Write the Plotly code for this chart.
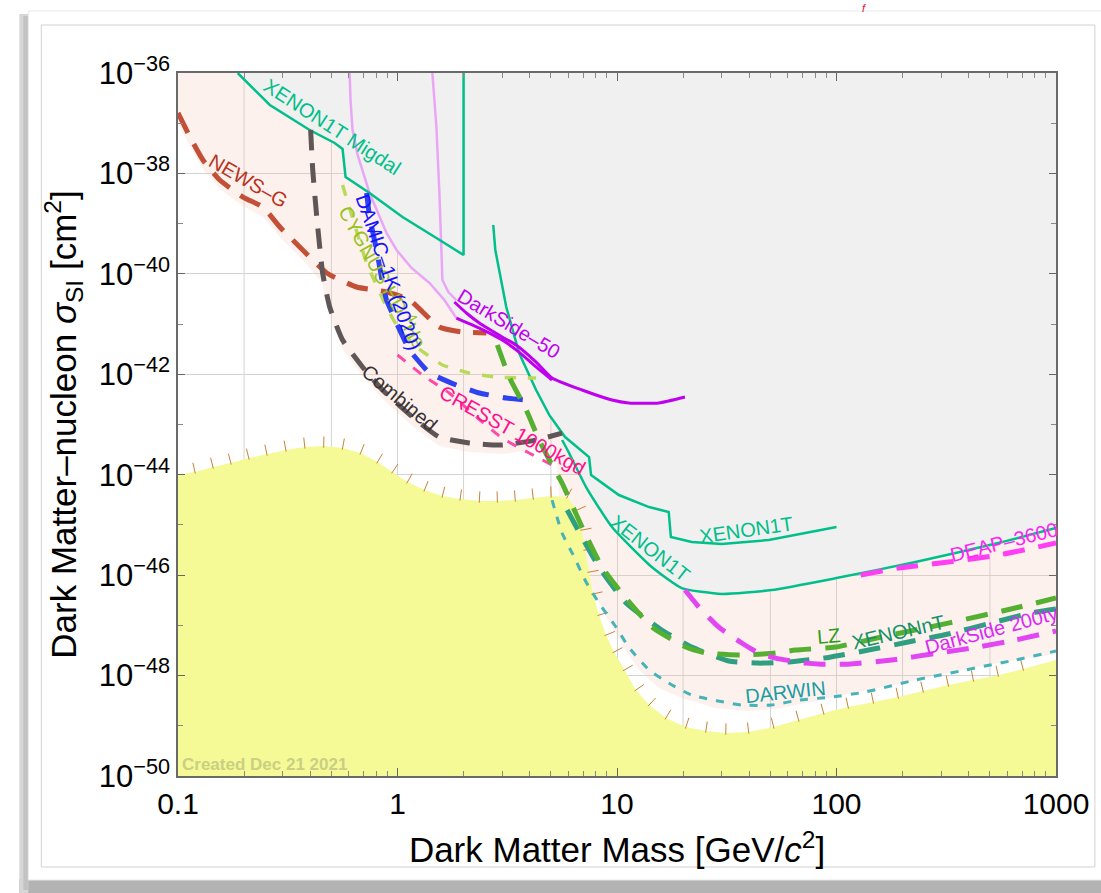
import math
import plotly.graph_objects as go

# ---------------- data (mass in GeV/c^2, cross-section in cm^2) ----------------
excl_mass = [0.187, 0.262, 0.398, 0.517, 0.562, 0.580, 0.746, 0.891, 0.99, 1.158, 1.398, 1.635, 1.854,
             2.36, 3.0, 3.58, 4.28, 4.91, 5.62, 6.05, 7.23, 9.49, 14.4, 19.7, 30.0, 50.6, 100, 229, 545,
             1000, 1000]
excl_sigma = [1e-36, 2.31e-37, 7.33e-38, 4.04e-38, 3.06e-38, 8.49e-39, 4.07e-39, 6.50e-40, 2.99e-40,
              1.31e-40, 6.57e-41, 3.01e-41, 1.32e-41, 8.34e-42, 4.81e-42, 2.70e-42, 4.86e-43, 1.55e-43,
              4.91e-44, 2.70e-44, 5.69e-45, 9.08e-46, 1.45e-46, 5.53e-47, 4.21e-47, 5.05e-47, 8.75e-47,
              1.82e-46, 4.36e-46, 8.67e-46, 1e-36]

band_mass = [0.1, 0.1, 0.1134, 0.1299, 0.155, 0.1975, 0.2435, 0.291, 0.370, 0.451, 0.491, 0.562, 0.693,
             0.855, 1.17, 1.55, 2.12, 3.0, 4.28, 5.23, 5.34, 5.45, 5.74, 6.38, 7.08, 8.03, 9.20, 10.8,
             12.6, 15.5, 19.7, 28.2, 39.8, 56.2, 80.3, 113, 191, 323, 545, 1000, 1000]
band_sigma = [1e-36, 1.01e-37, 3.52e-38, 1.22e-38, 4.90e-39, 2.24e-39, 1.36e-39, 5.42e-40, 1.89e-40,
              6.87e-41, 1.45e-41, 3.18e-42, 9.23e-43, 3.21e-43, 9.33e-44, 3.72e-44, 2.83e-44, 2.58e-44,
              3.24e-44, 4.08e-44, 1.24e-44, 3.94e-45, 1.25e-45, 3.47e-46, 1.10e-46, 3.50e-47, 1.16e-47,
              3.53e-48, 1.29e-48, 5.64e-49, 3.56e-49, 2.25e-49, 1.96e-49, 2.25e-49, 3.11e-49, 4.29e-49,
              6.78e-49, 1.12e-48, 1.77e-48, 2.69e-48, 1e-36]

floor_mass = [0.1, 0.1195, 0.1443, 0.174, 0.210, 0.254, 0.310, 0.378, 0.461, 0.562, 0.679, 0.811, 0.949,
              1.11, 1.327, 1.602, 1.93, 2.36, 2.85, 3.44, 4.15, 5.01, 5.93, 6.58, 6.93, 7.15, 7.46, 7.78,
              8.28, 8.91, 9.69, 10.8, 12.2, 14.0, 16.7, 20.6, 25.4, 31.3, 39.8, 51.7, 67.2, 87.3, 113,
              147, 191, 248, 323, 420, 545, 708, 1000]
floor_sigma = [9.86e-45, 1.13e-44, 1.42e-44, 1.71e-44, 2.15e-44, 2.58e-44, 3.10e-44, 3.56e-44, 3.72e-44,
               3.40e-44, 2.70e-44, 1.79e-44, 1.13e-44, 7.14e-45, 4.95e-45, 3.76e-45, 3.28e-45, 2.99e-45,
               2.99e-45, 3.13e-45, 3.43e-45, 3.76e-45, 3.59e-45, 1.98e-45, 7.91e-46, 3.16e-46, 1.15e-46,
               4.21e-47, 1.60e-47, 6.41e-48, 2.94e-48, 1.29e-48, 5.15e-49, 2.59e-49, 1.43e-49, 9.44e-50,
               7.85e-50, 7.16e-50, 7.5e-50, 9.44e-50, 1.30e-49, 1.79e-49, 2.36e-49, 2.97e-49, 3.73e-49,
               4.92e-49, 6.47e-49, 8.15e-49, 1.02e-48, 1.35e-48, 2.04e-48]

migdal_mass = [0.187, 0.262, 0.398, 0.517, 0.562, 0.580, 0.746, 1.054, 1.504, 2.0, 2.0]
migdal_sigma = [1e-36, 2.31e-37, 7.33e-38, 4.04e-38, 3.06e-38, 8.49e-39, 4.07e-39, 1.36e-39, 5.18e-40,
                2.37e-40, 1e-36]

x1t_s2_mass = [2.73, 2.79, 3.13, 3.58, 4.28, 4.91, 5.80, 7.46, 7.62, 10.2, 14.0, 17.2, 17.6, 21.9, 30.0,
               49.1, 100]
x1t_s2_sigma = [9.4e-40, 2.99e-40, 2.19e-41, 2.65e-42, 4.86e-43, 1.55e-43, 5.62e-44, 2.25e-44, 9.86e-45,
                3.94e-45, 2.27e-45, 1.81e-45, 5.74e-46, 4.56e-46, 4.16e-46, 5.0e-46, 9.08e-46]

x1t_mass = [5.62, 6.05, 7.23, 9.49, 14.4, 19.7, 30.0, 50.6, 100, 229, 545, 1000]
x1t_sigma = [4.91e-44, 2.70e-44, 5.69e-45, 9.08e-46, 1.45e-46, 5.53e-47, 4.21e-47, 5.05e-47, 8.75e-47,
             1.82e-46, 4.36e-46, 8.67e-46]

ds50_migdal_a_mass = [0.605, 0.611, 0.624, 0.658, 0.746, 0.891, 0.99, 1.158, 1.398, 1.635, 1.854]
ds50_migdal_a_sigma = [1e-36, 2.90e-37, 7.33e-38, 2.33e-38, 4.07e-39, 6.50e-40, 2.99e-40, 1.31e-40,
                       6.57e-41, 3.01e-41, 1.32e-41]
ds50_migdal_b_mass = [1.442, 1.504, 1.552, 1.602, 1.705, 1.854]
ds50_migdal_b_sigma = [1e-36, 8.41e-38, 4.07e-39, 7.54e-41, 4.35e-41, 3.01e-41]

ds50_mass = [1.816, 2.06, 2.36, 3.0, 3.47, 4.28, 5.06, 6.93, 9.49, 11.3, 15.5, 20.4]
ds50_sigma = [2.75e-41, 1.66e-41, 1.05e-41, 5.52e-42, 3.83e-42, 1.75e-42, 8.43e-43, 4.86e-43, 3.07e-43,
              2.68e-43, 2.68e-43, 3.52e-43]
ds50b_mass = [1.854, 2.36, 3.0, 3.58, 4.28, 5.06]
ds50b_sigma = [1.32e-41, 8.34e-42, 4.81e-42, 2.77e-42, 1.40e-42, 7.69e-43]

newsg_mass = [0.1, 0.1134, 0.1299, 0.155, 0.1975, 0.2435, 0.291, 0.370, 0.476, 0.651, 0.891, 1.134, 1.55,
              1.974, 2.54]
newsg_sigma = [1.60e-37, 5.31e-38, 1.85e-38, 7.40e-39, 3.39e-39, 2.14e-39, 8.57e-40, 2.99e-40, 1.04e-40,
               5.47e-41, 4.35e-41, 3.01e-41, 8.73e-42, 6.95e-42, 6.64e-42]

comb_mass = [0.402, 0.411, 0.430, 0.456, 0.491, 0.562, 0.693, 0.855, 1.17, 1.55, 2.12, 3.0, 4.28, 5.62]
comb_sigma = [7.33e-38, 1.17e-38, 1.18e-39, 1.04e-40, 2.19e-41, 4.81e-42, 1.40e-42, 4.86e-43, 1.41e-43,
              5.62e-44, 4.28e-44, 3.90e-44, 4.91e-44, 6.76e-44]

cygnus_mass = [0.562, 0.638, 0.723, 0.891, 1.02, 1.22, 1.602, 2.12, 2.82, 3.70, 4.28]
cygnus_sigma = [5.88e-39, 9.4e-40, 1.64e-40, 2.19e-41, 7.61e-42, 3.49e-42, 1.53e-42, 1.06e-42, 8.81e-43,
                8.43e-43, 8.43e-43]

damic_mass = [0.723, 0.746, 0.803, 0.855, 0.891, 0.99, 1.134, 1.398, 1.854, 2.36, 3.13, 3.98, 4.28]
damic_sigma = [4.07e-39, 1.36e-39, 2.99e-40, 6.57e-41, 3.01e-41, 1.05e-41, 3.04e-42, 1.06e-42, 6.11e-43,
               4.24e-43, 3.37e-43, 3.07e-43, 3.37e-43]

cresst_mass = [1.0, 1.30, 1.72, 2.29, 3.0, 3.98, 5.28]
cresst_sigma = [2.42e-42, 9.66e-43, 4.24e-43, 1.41e-43, 5.37e-44, 2.70e-44, 1.42e-44]

lz_mass = [2.85, 3.23, 3.86, 4.42, 5.06, 5.62, 6.93, 8.55, 10.5, 14.4, 20.6, 25.4, 37.0, 52.8, 65.1, 99,
           160, 323, 651, 1000]
lz_sigma = [3.83e-42, 8.81e-43, 1.94e-43, 4.91e-44, 1.56e-44, 6.82e-45, 9.08e-46, 1.45e-46, 4.40e-47,
            9.25e-48, 3.70e-48, 2.81e-48, 2.56e-48, 2.81e-48, 3.22e-48, 3.70e-48, 5.85e-48, 1.11e-47,
            2.21e-47, 3.50e-47]

xnt_mass = [5.93, 8.28, 11.0, 16.0, 21.9, 32.3, 44.2, 60.5, 92.0, 140, 212, 323, 506, 770, 1000]
xnt_sigma = [1.98e-45, 1.45e-46, 2.78e-47, 8.07e-48, 3.70e-48, 1.95e-48, 1.77e-48, 1.86e-48, 2.30e-48,
             3.22e-48, 4.66e-48, 6.72e-48, 1.11e-47, 1.76e-47, 2.11e-47]

ds20k_mass = [20.4, 23.6, 29.1, 37.0, 44.2, 52.8, 72.3, 85.5, 113, 178, 291, 442, 651, 1000]
ds20k_sigma = [5.05e-47, 2.32e-47, 9.25e-48, 4.45e-48, 2.81e-48, 2.23e-48, 1.77e-48, 1.69e-48, 1.69e-48,
               2.04e-48, 2.81e-48, 3.70e-48, 5.10e-48, 7.71e-48]

deap_mass = [129, 191, 323, 545, 1000]
deap_sigma = [1.0e-46, 1.38e-46, 1.82e-46, 2.51e-46, 4.36e-46]

darwin_mass = [5.06, 5.62, 6.38, 7.23, 8.28, 9.90, 11.3, 14.0, 17.2, 21.9, 37.0, 50.6, 67.2, 94.9, 135,
               229, 386, 651, 1000]
darwin_sigma = [3.13e-45, 6.89e-46, 2.30e-46, 7.29e-47, 2.78e-47, 9.25e-48, 3.70e-48, 1.29e-48, 7.10e-49,
                4.09e-49, 2.59e-49, 2.59e-49, 3.25e-49, 3.73e-49, 4.70e-49, 8.15e-49, 1.29e-48, 2.04e-48,
                3.08e-48]

x_tick_vals = [0.1, 1, 10, 100, 1000]
x_tick_text = ["0.1", "1", "10", "100", "1000"]
x_grid_extra = [0.2, 0.5, 2, 5, 20, 50, 200, 500]
y_exponents = [-50, -48, -46, -44, -42, -40, -38, -36]

# ---------------- layout geometry ----------------
W, H = 1101, 893
L, R, T, B = 178, 43, 73, 117
PW, PH = W - L - R, H - T - B
FONT = "Liberation Sans, Arial, Helvetica, sans-serif"
LABEL_SIZE = 20


def xp(px):
    return (px - L) / PW


def yp(py):
    return (H - B - py) / PH


fig = go.Figure()


def region(x, y, color):
    fig.add_trace(go.Scatter(x=x, y=y, mode="lines", fill="toself", fillcolor=color,
                             line=dict(width=0, color=color), hoverinfo="skip", showlegend=False))


def curve(x, y, color, width, dash="solid", shape="linear", smoothing=0.5):
    fig.add_trace(go.Scatter(x=x, y=y, mode="lines",
                             line=dict(color=color, width=width, dash=dash, shape=shape,
                                       smoothing=smoothing),
                             hoverinfo="skip", showlegend=False))


region(band_mass, band_sigma, "rgba(246,196,186,0.24)")
region(excl_mass, excl_sigma, "#f0f0f0")
region(floor_mass + [1000, 0.1], floor_sigma + [1e-50, 1e-50], "#f5fa96")

# hatch marks along the neutrino floor
n = len(floor_mass)
lx = [math.log10(v) for v in floor_mass]
ly = [math.log10(v) for v in floor_sigma]
angles = []
for i in range(n):
    a, b = max(i - 1, 0), min(i + 1, n - 1)
    dxp = (lx[b] - lx[a]) * PW / 4
    dyp = -(ly[b] - ly[a]) * PH / 14
    angles.append(math.degrees(math.atan2(dyp, dxp)) + 180)
fig.add_trace(go.Scatter(x=floor_mass[1:-1], y=floor_sigma[1:-1], mode="markers",
                         marker=dict(symbol="line-ns", size=8, angle=angles[1:-1], standoff=4,
                                     line=dict(color="#c98232", width=1)),
                         hoverinfo="skip", showlegend=False))

TEAL = "#00bf8a"
VIOLET_L = "#e9a6f7"
PURPLE = "#bf00ef"

curve(ds50_migdal_a_mass, ds50_migdal_a_sigma, VIOLET_L, 2.5)
curve(ds50_migdal_b_mass, ds50_migdal_b_sigma, VIOLET_L, 2.5)
curve(migdal_mass, migdal_sigma, TEAL, 2.5)
curve(x1t_s2_mass, x1t_s2_sigma, TEAL, 2.5)
curve(x1t_mass, x1t_sigma, TEAL, 2.5, shape="spline")
curve(newsg_mass, newsg_sigma, "#c24f36", 5, "22px,13px", "spline")
curve(comb_mass, comb_sigma, "#5f5757", 5, "20px,13px", "spline")
curve(cygnus_mass, cygnus_sigma, "#b9d95a", 3.5, "11px,12px", "spline", 0.3)
curve(damic_mass, damic_sigma, "#3042f0", 5, "20px,14px", "spline", 0.3)
curve(cresst_mass, cresst_sigma, "#ff4aa5", 3, "10px,10px", "spline")
curve(ds50b_mass, ds50b_sigma, PURPLE, 3, shape="spline")
curve(ds50_mass, ds50_sigma, PURPLE, 3, shape="spline")
curve(darwin_mass, darwin_sigma, "#45b3b8", 3, "8px,9px", "spline")
curve(xnt_mass, xnt_sigma, "#2e9f80", 5, "22px,14px", "spline")
curve(lz_mass, lz_sigma, "#55b032", 5, "22px,14px", "spline")
curve(ds20k_mass, ds20k_sigma, "#e245f2", 5, "22px,14px", "spline")
curve(deap_mass, deap_sigma, "#ff3df2", 5, "22px,14px", "spline")

# ---------------- labels ----------------
labels = [
    ("XENON1T Migdal", 333, 127, 33, TEAL),
    ("NEWS\u2013G", 249, 181, 30, "#b8341e"),
    ("CYGNUS HD <sup>4</sup>He", 385, 276, 61, "#97c21e"),
    ("DAMIC\u20131K (2020)", 389, 272, 71, "#1414ff"),
    ("DarkSide\u201350", 510, 324, 31, PURPLE),
    ("Combined", 400, 398, 40, "#3a3232"),
    ("CRESST 1000kgd", 513, 430, 29, "#ff0f8c"),
    ("XENON1T", 651, 548, 38, TEAL),
    ("XENON1T", 747, 530, -8, TEAL),
    ("DEAP\u20133600", 1006, 542, -14, "#ff24f5"),
    ("LZ", 830, 636, -5, "#2e9e18"),
    ("XENONnT", 900, 632, -13, "#16926a"),
    ("DarkSide 200ty", 993, 630, -15, "#d82af2"),
    ("DARWIN", 787, 692, -6, "#1b9ca3"),
]
annotations = []
for text, px, py, ang, col in labels:
    annotations.append(dict(text=text, x=xp(px), y=yp(py), xref="paper", yref="paper",
                            showarrow=False, textangle=ang, xanchor="center", yanchor="middle",
                            font=dict(family=FONT, size=LABEL_SIZE, color=col)))
annotations.append(dict(text="<b>Created Dec 21 2021</b>", x=xp(180), y=yp(764), xref="paper",
                        yref="paper", showarrow=False, xanchor="left", yanchor="middle",
                        font=dict(family=FONT, size=17, color="#c9cf84")))
annotations.append(dict(text="<i>f</i>", x=xp(866), y=yp(8), xref="paper", yref="paper",
                        showarrow=False, xanchor="center", yanchor="middle",
                        font=dict(family=FONT, size=11, color="#e0103a")))

# ---------------- page frame (card with shadow) + extra grid lines ----------------
shapes = [
    dict(type="rect", xref="paper", yref="paper", x0=xp(19), x1=xp(1110), y0=yp(895), y1=yp(879),
         fillcolor="#b3b3b3", line=dict(width=0), layer="below"),
    dict(type="rect", xref="paper", yref="paper", x0=xp(19), x1=xp(28), y0=yp(895), y1=yp(14),
         fillcolor="#d6d6d6", line=dict(width=0), layer="below"),
    dict(type="rect", xref="paper", yref="paper", x0=xp(23), x1=xp(28), y0=yp(890), y1=yp(16),
         fillcolor="#c2c2c2", line=dict(width=0), layer="below"),
    dict(type="rect", xref="paper", yref="paper", x0=xp(28), x1=xp(1110), y0=yp(880), y1=yp(11),
         fillcolor="white", line=dict(width=1, color="#e9e9e9"), layer="below"),
    dict(type="rect", xref="paper", yref="paper", x0=xp(41), x1=xp(1097), y0=yp(867), y1=yp(25),
         fillcolor="rgba(0,0,0,0)", line=dict(width=1, color="#d2d2d2"), layer="below"),
]
for g in x_grid_extra:
    gx = (math.log10(g) + 1) / 4
    shapes.append(dict(type="line", xref="paper", yref="paper", x0=gx, x1=gx, y0=0, y1=1,
                       line=dict(color="#d3d3d3", width=1), layer="below"))

minor_x = [d * 10 ** e for e in range(-1, 3) for d in range(2, 10)]
minor_y = [10.0 ** e for e in range(-49, -36, 2)]

fig.update_layout(
    width=W, height=H, autosize=False,
    margin=dict(l=L, r=R, t=T, b=B, pad=0),
    paper_bgcolor="white", plot_bgcolor="white",
    showlegend=False,
    annotations=annotations, shapes=shapes,
    font=dict(family=FONT, color="black"),
    xaxis=dict(type="log", range=[-1, 3], tickvals=x_tick_vals, ticktext=x_tick_text,
               tickfont=dict(family=FONT, size=30, color="black"),
               showgrid=True, gridcolor="#d3d3d3", gridwidth=1,
               ticks="inside", ticklen=8, tickcolor="#666", tickwidth=1,
               minor=dict(tickvals=minor_x, ticks="inside", ticklen=5, tickcolor="#888", showgrid=False),
               showline=True, linecolor="#6a6a6a", linewidth=1.5, mirror="allticks",
               zeroline=False,
               title=dict(text="Dark Matter Mass [GeV/<i>c</i><sup>2</sup>]", standoff=19,
                          font=dict(family=FONT, size=35, color="black"))),
    yaxis=dict(type="log", range=[-50, -36],
               tickvals=[10.0 ** e for e in y_exponents],
               ticktext=["10<sup>\u2212%d</sup>" % (-e) for e in y_exponents],
               tickfont=dict(family=FONT, size=31, color="black"),
               showgrid=True, gridcolor="#d3d3d3", gridwidth=1,
               ticks="inside", ticklen=7, tickcolor="#666", tickwidth=1,
               minor=dict(tickvals=minor_y, ticks="inside", ticklen=5, tickcolor="#888", showgrid=False),
               showline=True, linecolor="#6a6a6a", linewidth=1.5, mirror="allticks",
               zeroline=False,
               title=dict(text="Dark Matter\u2013nucleon <i>\u03c3</i><sub>SI</sub> [cm<sup>2</sup>]",
                          standoff=12, font=dict(family=FONT, size=35, color="black"))),
)

fig.write_html("out.html")
